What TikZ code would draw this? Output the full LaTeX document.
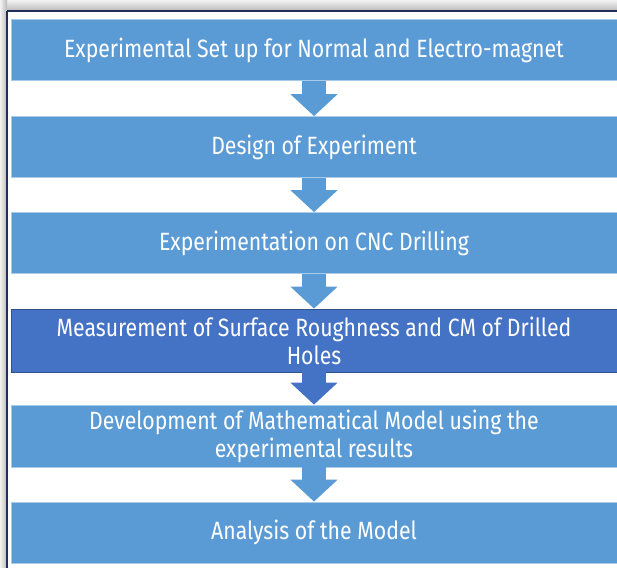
\documentclass[tikz,border=0pt]{standalone}
\usepackage{fontspec}
\setmainfont{Fira Sans}[FakeStretch=0.85]
\usetikzlibrary{arrows.meta}

\definecolor{stepblue}{HTML}{5B9BD5}
\definecolor{stepedge}{HTML}{A9CBEA}
\definecolor{keyblue}{HTML}{4472C4}
\definecolor{keyedge}{HTML}{2F528F}
\definecolor{framenavy}{HTML}{1F2F5A}

\tikzset{
    stage/.style={rectangle,fill=stepblue,draw=stepedge,line width=0.8pt,
        minimum width=606pt,minimum height=61pt,inner sep=0pt,
        text=white,align=center,font=\fontsize{25}{28}\selectfont},
    keystage/.style={stage,fill=keyblue,draw=keyedge},
    flow/.style={line width=24pt,draw=stepblue,
        -{Triangle[length=22pt,width=46pt]}},
}

\begin{document}
\begin{tikzpicture}[x=1pt,y=-1pt]
        \useasboundingbox (0,0) rectangle (617,567);
        \clip (0,0) rectangle (617,567);

        \shade[top color=gray!10,bottom color=gray!55] (0,0) rectangle (617,11);
        \shade[left color=gray!10,right color=gray!55] (0,0) rectangle (7,567);
        \fill[white] (7,11) rectangle (617,567);
        \draw[framenavy,line width=1.6pt] (7,11) -- (7,580);
        \draw[framenavy,line width=1.6pt] (7,11) -- (630,11);

        \node[stage] (setup) at (314,50) {Experimental Set up for Normal and Electro-magnet};
        \node[stage] (doe) at (314,147) {Design of Experiment};
        \node[stage] (cnc) at (314,243) {Experimentation on CNC Drilling};
        \node[keystage,minimum height=63pt] (measure) at (314,340.5) {Measurement of Surface Roughness and CM of Drilled\\Holes};
        \node[stage,minimum height=62pt] (model) at (314,436) {Development of Mathematical Model using the\\experimental results};
        \node[stage] (analysis) at (314,532.5) {Analysis of the Model};

        \draw[flow] (setup.south) -- (doe.north);
        \draw[flow] (doe.south) -- (cnc.north);
        \draw[flow] (cnc.south) -- (measure.north);
        \draw[flow,draw=keyblue] (measure.south) -- (model.north);
        \draw[flow] (model.south) -- (analysis.north);

    \end{tikzpicture}
\end{document}
